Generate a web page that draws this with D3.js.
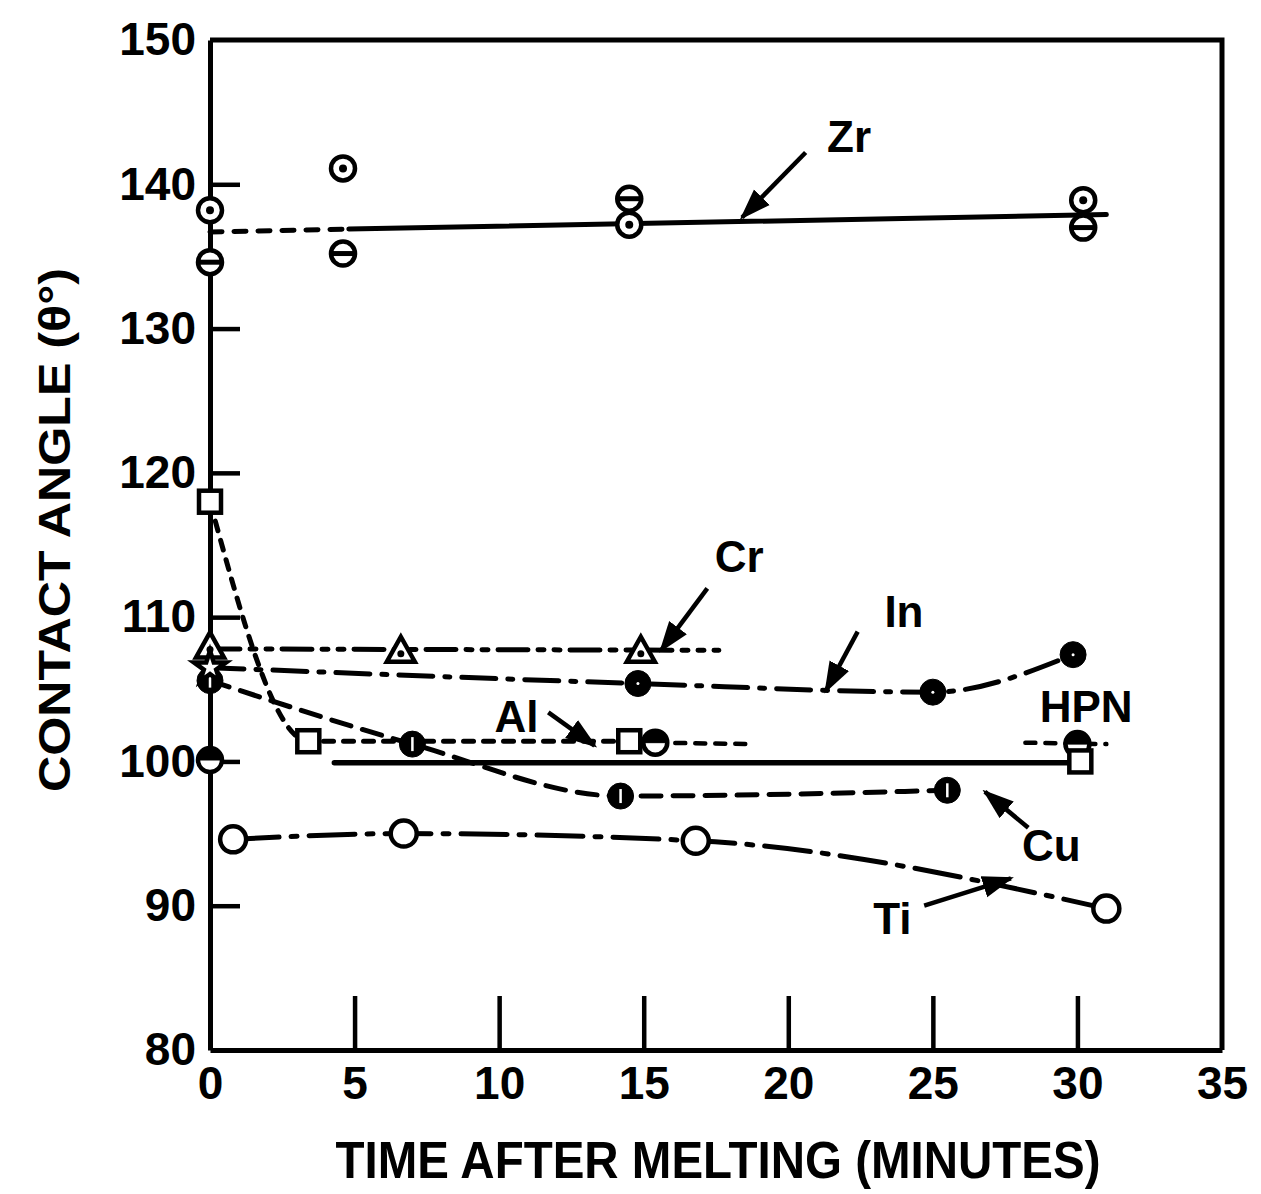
<!DOCTYPE html>
<html>
<head>
<meta charset="utf-8">
<script src="https://cdn.jsdelivr.net/npm/d3@7"></script>
<style>
  body { margin: 0; background: #fff; }
  svg { display: block; }
  text { font-family: "Liberation Sans", Arial, sans-serif; font-weight: bold; fill: #000; }
</style>
</head>
<body>
<svg id="chart"></svg>
<script>
// Data (time in minutes, contact angle in degrees)
const xTicks = [0, 5, 10, 15, 20, 25, 30, 35];
const yTicks = [80, 90, 100, 110, 120, 130, 140, 150];

// Zr: two marker kinds at each time
const zrTime = [0, 4.6, 14.5, 30.2];
const zrDotAngle = [138.2, 141.1, 137.2, 138.9];
const zrBarAngle = [134.6, 135.2, 139.0, 137.0];
const zrLineTime = [0, 4.8, 31.0];
const zrLineAngle = [136.7, 136.9, 137.9];

// Al: squares
const alTime = [0, 3.4, 14.5, 30.1];
const alAngle = [118.0, 101.4, 101.4, 100.0];
const alFitTime = [4.3, 29.8];
const alFitAngle = [99.9, 99.9];

// Cr: triangles
const crTime = [0, 6.6, 14.9];
const crAngle = [107.9, 107.6, 107.6];
const crLineTime = [0, 17.6];
const crLineAngle = [107.8, 107.7];

// In: filled circles
const inTime = [0, 14.8, 25.0, 29.85];
const inAngle = [106.5, 105.4, 104.8, 107.4];

// Cu: filled circles with white bar
const cuTime = [0, 7.0, 14.2, 25.5];
const cuAngle = [105.6, 101.2, 97.6, 98.0];

// HPN: half filled circles
const hpnTime = [0, 15.4, 30.0];
const hpnAngle = [100.1, 101.3, 101.2];
const hpnSegStart = [15.4, 28.2];
const hpnSegEnd = [18.8, 31.0];

// Ti: open circles
const tiTime = [0.8, 6.7, 16.8, 31.0];
const tiAngle = [94.6, 95.0, 94.5, 89.8];

// Curve labels with arrows: label position, arrow start, arrow tip (time, angle)
const labelNames = ["Zr", "Cr", "In", "Al", "HPN", "Cu", "Ti"];
const labelPos = [[22.1, 143.3], [18.3, 114.2], [24.0, 110.4], [10.6, 103.1], [30.3, 103.8], [29.1, 94.2], [23.6, 89.1]];
const arrowFrom = [[20.6, 142.2], [17.2, 112.0], [22.4, 109.0], [11.7, 103.4], null, [28.3, 95.4], [24.7, 90.0]];
const arrowTip = [[18.4, 137.7], [15.6, 107.7], [21.3, 104.9], [13.3, 101.1], null, [26.8, 97.9], [27.7, 91.9]];

// Chart layout
const width = 1261;
const height = 1194;
const plot = { left: 210, right: 1222, top: 40, bottom: 1050 };

const svg = d3.select("#chart").attr("width", width).attr("height", height);
svg.append("rect").attr("width", width).attr("height", height).attr("fill", "#fff");

const x = d3.scaleLinear().domain([0, 35]).range([plot.left, plot.right]);
const y = d3.scaleLinear().domain([80, 150]).range([plot.bottom, plot.top]);

// Axes with ticks pointing inwards
const xAxis = svg.append("g")
  .attr("transform", `translate(0,${plot.bottom})`)
  .call(d3.axisBottom(x).tickValues(xTicks).tickSize(-54).tickSizeOuter(0).tickPadding(16));
const yAxis = svg.append("g")
  .attr("transform", `translate(${plot.left},0)`)
  .call(d3.axisLeft(y).tickValues(yTicks).tickSize(-30).tickSizeOuter(0).tickPadding(14));

[xAxis, yAxis].forEach((g) => {
  g.select(".domain").attr("stroke", "#000").attr("stroke-width", 5);
  g.selectAll(".tick line").attr("stroke", "#000").attr("stroke-width", 4.5);
  g.selectAll(".tick text").style("font-size", "46px").attr("fill", "#000");
});
xAxis.selectAll(".tick").filter((d) => d === 0 || d === 35).select("line").remove();
yAxis.selectAll(".tick").filter((d) => d === 80 || d === 150).select("line").remove();

// Frame: top and right
svg.append("path")
  .attr("d", `M${plot.left},${plot.top}H${plot.right}V${plot.bottom}`)
  .attr("fill", "none").attr("stroke", "#000").attr("stroke-width", 5);

// Axis titles
svg.append("text")
  .attr("x", 718).attr("y", 1178)
  .attr("text-anchor", "middle")
  .attr("textLength", 765).attr("lengthAdjust", "spacingAndGlyphs")
  .style("font-size", "52px")
  .text("TIME AFTER MELTING (MINUTES)");
svg.append("text")
  .attr("transform", "translate(70,530) rotate(-90)")
  .attr("text-anchor", "middle")
  .attr("textLength", 524).attr("lengthAdjust", "spacingAndGlyphs")
  .style("font-size", "44px")
  .text("CONTACT ANGLE (θ°)");

// Lines
const plotLines = svg.append("g").attr("fill", "none").attr("stroke", "#000").attr("stroke-linecap", "round");

function drawLine(times, angles, dash, width, curve) {
  const pts = times.map((t, i) => [t, angles[i]]);
  const line = d3.line().x((d) => x(d[0])).y((d) => y(d[1])).curve(curve || d3.curveMonotoneX);
  plotLines.append("path")
    .attr("d", line(pts))
    .attr("stroke-width", width)
    .attr("stroke-dasharray", dash);
}

drawLine(zrLineTime.slice(0, 2), zrLineAngle.slice(0, 2), "12,12", 5, d3.curveLinear);
drawLine(zrLineTime.slice(1), zrLineAngle.slice(1), null, 5, d3.curveLinear);
drawLine(alTime.slice(0, 3), alAngle.slice(0, 3), "10,10", 5, d3.curveMonotoneX);
drawLine(alFitTime, alFitAngle, null, 5.5, d3.curveLinear);
drawLine(crLineTime, crLineAngle, "30,10,6,10,6,10", 5, d3.curveLinear);
drawLine(inTime, inAngle, "34,12,5,12", 5, d3.curveMonotoneX);
drawLine(cuTime, cuAngle, "20,12", 5, d3.curveMonotoneX);
hpnSegStart.forEach((s, i) => {
  drawLine([s, hpnSegEnd[i]], [hpnAngle[1], hpnAngle[2]], "10,10", 4.5, d3.curveLinear);
});
drawLine(tiTime, tiAngle, "46,12,6,12", 5, d3.curveMonotoneX);

// Markers
const marks = svg.append("g").attr("stroke", "#000");

function zrDot(g) {
  g.append("circle").attr("r", 12).attr("fill", "#fff").attr("stroke-width", 4.5);
  g.append("circle").attr("r", 4).attr("fill", "#000").attr("stroke", "none");
}
function zrBar(g) {
  g.append("circle").attr("r", 12).attr("fill", "#fff").attr("stroke-width", 4.5);
  g.append("line").attr("x1", -12).attr("x2", 12).attr("stroke-width", 5);
}
function square(g) {
  g.append("rect").attr("x", -11).attr("y", -11).attr("width", 22).attr("height", 22)
    .attr("fill", "#fff").attr("stroke-width", 4.5);
}
function triangle(g) {
  g.append("path").attr("d", "M0,-15L14,10H-14Z").attr("fill", "#fff").attr("stroke-width", 4.5);
  g.append("circle").attr("cy", 2).attr("r", 3.5).attr("fill", "#000").attr("stroke", "none");
}
function inMark(g, i) {
  if (i === 0) {
    g.append("path").attr("d", d3.symbol(d3.symbolStar, 320)()).attr("fill", "#fff").attr("stroke-width", 4.5);
    return;
  }
  g.append("circle").attr("r", 13).attr("fill", "#000");
  g.append("circle").attr("r", 1.5).attr("fill", "#fff").attr("stroke", "none");
}
function cuMark(g) {
  g.append("circle").attr("r", 13).attr("fill", "#000");
  g.append("line").attr("y1", -7).attr("y2", 7).attr("stroke", "#fff").attr("stroke-width", 2.5);
}
function hpnMark(g) {
  g.append("circle").attr("r", 12).attr("fill", "#fff").attr("stroke-width", 4.5);
  g.append("path").attr("d", "M-12,0A12,12 0 0 1 12,0Z").attr("fill", "#000");
}
function tiMark(g) {
  g.append("circle").attr("r", 13).attr("fill", "#fff").attr("stroke-width", 4.5);
}

function drawMarks(times, angles, draw) {
  times.forEach((t, i) => {
    const g = marks.append("g").attr("transform", `translate(${x(t)},${y(angles[i])})`);
    draw(g, i);
  });
}

drawMarks(zrTime, zrDotAngle, zrDot);
drawMarks(zrTime, zrBarAngle, zrBar);
drawMarks(cuTime, cuAngle, cuMark);
drawMarks(hpnTime, hpnAngle, hpnMark);
drawMarks(alTime, alAngle, square);
drawMarks(crTime, crAngle, triangle);
drawMarks(inTime, inAngle, inMark);
drawMarks(tiTime, tiAngle, tiMark);

// Curve labels and arrows
svg.append("defs").append("marker")
  .attr("id", "head")
  .attr("viewBox", "0 0 10 10")
  .attr("refX", 9).attr("refY", 5)
  .attr("markerWidth", 7).attr("markerHeight", 7)
  .attr("orient", "auto")
  .append("path").attr("d", "M0,1.5L10,5L0,8.5Z").attr("fill", "#000");

labelNames.forEach((name, i) => {
  svg.append("text")
    .attr("x", x(labelPos[i][0])).attr("y", y(labelPos[i][1]))
    .attr("text-anchor", "middle")
    .attr("dominant-baseline", "central")
    .style("font-size", "44px")
    .text(name);
  if (arrowFrom[i]) {
    svg.append("line")
      .attr("x1", x(arrowFrom[i][0])).attr("y1", y(arrowFrom[i][1]))
      .attr("x2", x(arrowTip[i][0])).attr("y2", y(arrowTip[i][1]))
      .attr("stroke", "#000").attr("stroke-width", 4.5)
      .attr("marker-end", "url(#head)");
  }
});
</script>
</body>
</html>
